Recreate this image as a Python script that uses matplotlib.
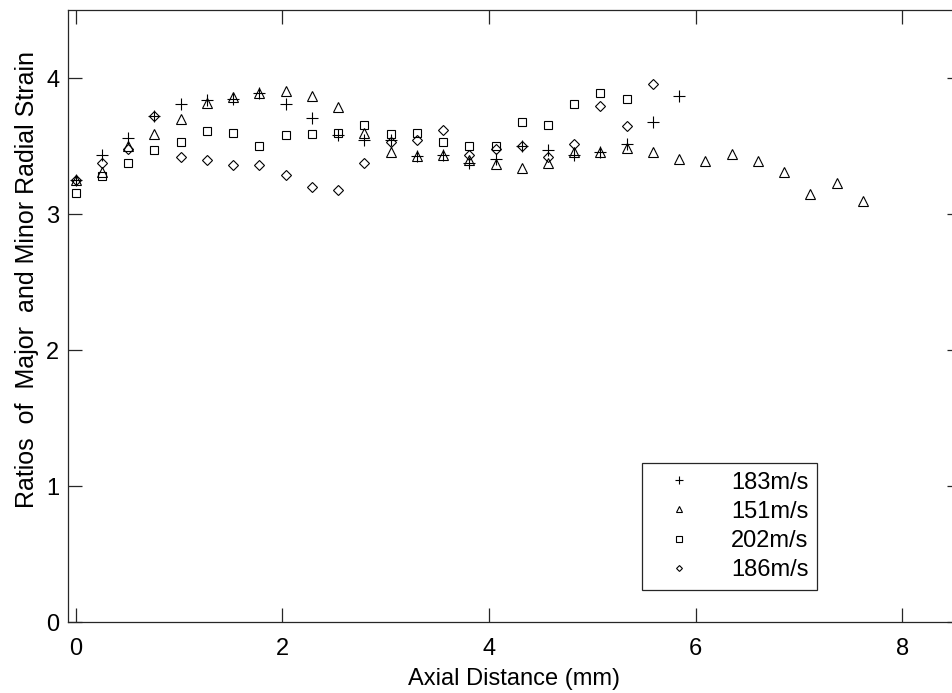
import matplotlib
matplotlib.use('Agg')
import matplotlib.pyplot as plt

plt.rcParams['font.family'] = ['Liberation Sans', 'DejaVu Sans']

# axial positions (mm), sampled every 0.254 mm
axial = [0.0, 0.254, 0.508, 0.762, 1.016, 1.27, 1.524, 1.778, 2.032, 2.286,
         2.54, 2.794, 3.048, 3.302, 3.556, 3.81, 4.064, 4.318, 4.572, 4.826,
         5.08, 5.334, 5.588, 5.842, 6.096, 6.35, 6.604, 6.858, 7.112, 7.366,
         7.62]

ratio_183 = [3.25, 3.44, 3.56, 3.72, 3.81, 3.84, 3.85, 3.89, 3.81, 3.71,
             3.58, 3.55, 3.55, 3.43, 3.44, 3.38, 3.41, 3.50, 3.47, 3.44,
             3.46, 3.52, 3.68, 3.87]
ratio_151 = [3.25, 3.31, 3.50, 3.59, 3.70, 3.82, 3.865, 3.89, 3.91, 3.87,
             3.79, 3.60, 3.46, 3.43, 3.44, 3.40, 3.37, 3.34, 3.375, 3.46,
             3.46, 3.485, 3.46, 3.41, 3.39, 3.445, 3.39, 3.31, 3.15, 3.23,
             3.10]
ratio_202 = [3.16, 3.28, 3.38, 3.47, 3.53, 3.61, 3.60, 3.50, 3.58, 3.59,
             3.60, 3.66, 3.59, 3.60, 3.53, 3.50, 3.50, 3.68, 3.66, 3.81,
             3.89, 3.85]
ratio_186 = [3.25, 3.38, 3.48, 3.72, 3.42, 3.40, 3.36, 3.36, 3.29, 3.20,
             3.18, 3.38, 3.53, 3.55, 3.62, 3.44, 3.48, 3.50, 3.42, 3.52,
             3.80, 3.65, 3.96]

fig = plt.figure(figsize=(9.52, 6.93), dpi=100)
ax = fig.add_axes([0.0711, 0.102, 0.9384, 0.883])

mk = dict(linestyle='none', color='black', markerfacecolor='none',
          markeredgewidth=0.8)
ax.plot(axial[:len(ratio_183)], ratio_183, marker='+', markersize=8,
        label='183m/s', **mk)
ax.plot(axial[:len(ratio_151)], ratio_151, marker='^', markersize=7,
        label='151m/s', **mk)
ax.plot(axial[:len(ratio_202)], ratio_202, marker='s', markersize=6,
        label='202m/s', **mk)
ax.plot(axial[:len(ratio_186)], ratio_186, marker='D', markersize=4.6,
        label='186m/s', **mk)

ax.set_xlim(-0.077, 8.57)
ax.set_ylim(0, 4.5)
ax.set_xticks([0, 2, 4, 6, 8])
ax.set_yticks([0, 1, 2, 3, 4])

for s in ax.spines.values():
    s.set_linewidth(0.9)
    s.set_color('0.15')
ax.tick_params(direction='in', length=10, width=0.9, color='0.15',
               top=True, right=True, labelsize=17)
ax.tick_params(axis='x', pad=11)
ax.tick_params(axis='y', pad=6)

ax.set_xlabel('Axial Distance (mm)', fontsize=17, labelpad=6)
ax.set_ylabel('Ratios  of  Major  and Minor Radial Strain', fontsize=18)
ax.yaxis.set_label_coords(-0.032, 0.561)

leg = ax.legend(loc='upper left', bbox_to_anchor=(0.643, 0.2603),
                borderaxespad=0, fontsize=17, markerscale=0.65,
                fancybox=False, framealpha=1, edgecolor='0.15',
                handlelength=2.4, handletextpad=1.0, labelspacing=0.305,
                borderpad=0.36)
leg.get_frame().set_linewidth(0.9)

fig.savefig('out.png', dpi=100)
